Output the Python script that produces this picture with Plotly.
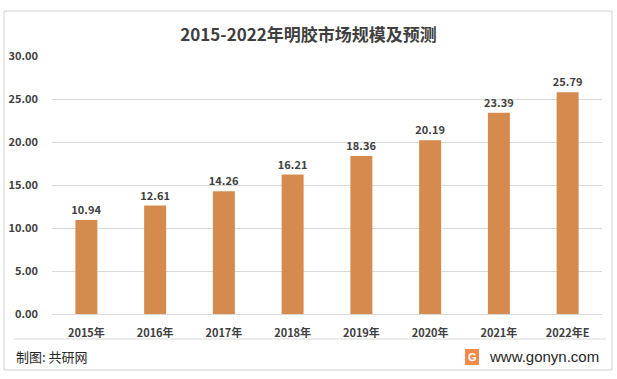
import plotly.graph_objects as go

categories = ["2015年", "2016年", "2017年", "2018年", "2019年", "2020年", "2021年", "2022年E"]
values = [10.94, 12.61, 14.26, 16.21, 18.36, 20.19, 23.39, 25.79]
y_ticks = [0, 5, 10, 15, 20, 25, 30]
y_tick_labels = ["0.00", "5.00", "10.00", "15.00", "20.00", "25.00", "30.00"]

title = "2015-2022年明胶市场规模及预测"
source = "制图: 共研网"
site = "www.gonyn.com"

FONT = "Noto Sans CJK SC"
TXT = "#404040"
BAR = "#D58B4E"

fig = go.Figure()
fig.add_trace(go.Bar(
    x=categories, y=values,
    marker=dict(color=BAR, line=dict(width=0)),
    width=0.32,
    text=[f"<b>{v:.2f}</b>" for v in values],
    textposition="outside",
    constraintext="none",
    textfont=dict(family=FONT, size=11, color=TXT),
    cliponaxis=False,
))

fig.update_layout(
    width=617, height=379,
    margin=dict(l=52, r=15, t=56, b=65),
    paper_bgcolor="white", plot_bgcolor="white",
    showlegend=False,
    font=dict(family=FONT, color=TXT),
    title=dict(text="<b>" + title + "</b>", x=0.5, xanchor="center", y=1 - 35 / 379, yanchor="middle",
               font=dict(family=FONT, size=17, color=TXT)),
    xaxis=dict(showgrid=False, showline=True, linecolor="#D9D9D9", linewidth=1, ticks="",
               tickvals=categories, ticktext=["<b>" + c + "</b>" for c in categories],
               tickfont=dict(family=FONT, size=11, color=TXT), fixedrange=True,
               ticklabelstandoff=9, automargin=False),
    yaxis=dict(range=[0, 30], tickvals=y_ticks, ticktext=["<b>" + t + "</b>" for t in y_tick_labels],
               showgrid=True, gridcolor="#D9D9D9", gridwidth=1, zeroline=False, showline=False, ticks="",
               tickfont=dict(family=FONT, size=11, color=TXT), ticklabelstandoff=13,
               fixedrange=True, automargin=False),
    shapes=[
        dict(type="rect", xref="paper", yref="paper", x0=-48 / 550, x1=(612 - 52) / 550,
             y0=(314 - 370) / 258, y1=(314 - 11) / 258, line=dict(color="#D0D0D0", width=1)),
        dict(type="line", xref="paper", yref="paper", x0=-38 / 550, x1=(606 - 52) / 550,
             y0=(314 - 339) / 258, y1=(314 - 339) / 258, line=dict(color="#D9D9D9", width=1)),
        dict(type="rect", xref="paper", yref="paper", x0=(465 - 52) / 550, x1=(479 - 52) / 550,
             y0=(314 - 365) / 258, y1=(314 - 349) / 258, fillcolor="#F08A4B", line=dict(width=0)),
    ],
    annotations=[
        dict(text=source, xref="paper", yref="paper", x=-38 / 550, y=(314 - 356) / 258,
             xanchor="left", yanchor="middle", showarrow=False,
             font=dict(family=FONT, size=13, color="#262626")),
        dict(text=site, xref="paper", yref="paper", x=(487 - 52) / 550, y=(314 - 356) / 258,
             xanchor="left", yanchor="middle", showarrow=False,
             font=dict(family="Liberation Sans", size=15, color="#262626")),
        dict(text="<b>G</b>", xref="paper", yref="paper", x=(472 - 52) / 550, y=(314 - 357) / 258,
             xanchor="center", yanchor="middle", showarrow=False,
             font=dict(family="Liberation Sans", size=11, color="white")),
    ],
)

fig.write_html("out.html", config={"displayModeBar": False},
               post_script="document.body.style.margin='0';")
